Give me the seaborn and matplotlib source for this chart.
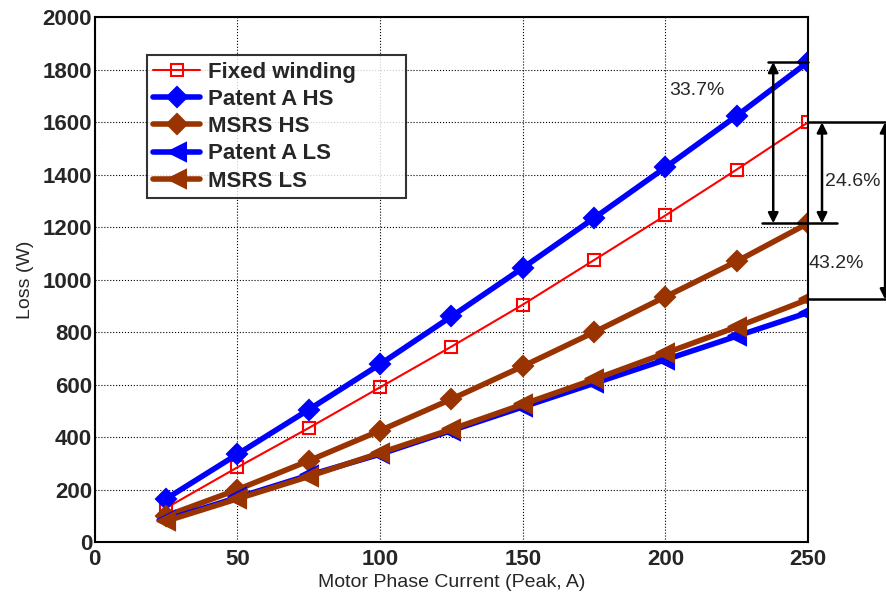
import matplotlib
matplotlib.use("Agg")
import matplotlib.pyplot as plt
import seaborn as sns
import pandas as pd
from matplotlib import font_manager

current = [25, 50, 75, 100, 125, 150, 175, 200, 225, 250]
fixed_winding = [130, 285, 435, 590, 745, 905, 1075, 1245, 1420, 1600]
patent_a_hs = [165, 335, 505, 678, 860, 1045, 1235, 1428, 1625, 1830]
msrs_hs = [100, 200, 310, 425, 545, 670, 800, 935, 1070, 1215]
patent_a_ls = [85, 170, 255, 335, 425, 515, 605, 695, 785, 875]
msrs_ls = [80, 165, 250, 340, 430, 525, 620, 720, 820, 925]
series_names = ["Fixed winding", "Patent A HS", "MSRS HS", "Patent A LS", "MSRS LS"]
pct_labels = ["33.7%", "24.6%", "43.2%"]

sns.set_style("white")
plt.rcParams['font.family'] = ['Liberation Sans', 'DejaVu Sans']
names = {f.name for f in font_manager.fontManager.ttflist}
narrow = 'Liberation Sans Narrow' if 'Liberation Sans Narrow' in names else 'Liberation Sans'
narrow_size = 17 if narrow == 'Liberation Sans Narrow' else 14

fig = plt.figure(figsize=(8.86, 5.99), dpi=100)
ax = fig.add_axes([0.107, 0.095, 0.805, 0.876])

blue = "#0000FF"
brown = "#993300"
red = "#FF0000"
styles = [
    (fixed_winding, red, "s", 1.5, 9, "none", 1.5),
    (patent_a_hs, blue, "D", 4, 10, blue, 1.5),
    (msrs_hs, brown, "D", 4, 10, brown, 1.5),
    (patent_a_ls, blue, "<", 4, 13, blue, 1.5),
    (msrs_ls, brown, "<", 4, 13, brown, 1.5),
]
for name, (vals, col, mk, lw, ms, mfc, mew) in zip(series_names, styles):
    df = pd.DataFrame({"x": current, "y": vals})
    sns.lineplot(data=df, x="x", y="y", ax=ax, color=col, marker=mk, linewidth=lw,
                 markersize=ms, markerfacecolor=mfc, markeredgecolor=col,
                 markeredgewidth=mew, label=name)

ax.set_xlim(0, 250)
ax.set_ylim(0, 2000)
ax.set_xticks(range(0, 251, 50))
ax.set_yticks(range(0, 2001, 200))
ax.grid(True, color="black", linestyle=":", linewidth=0.8)
ax.tick_params(direction="in", length=5, width=1, labelsize=16)
ax.tick_params(axis="x", pad=5)
ax.tick_params(axis="y", pad=2)
for lbl in ax.get_xticklabels() + ax.get_yticklabels():
    lbl.set_fontweight("bold")
for sp in ax.spines.values():
    sp.set_linewidth(1.5)
    sp.set_color("black")
ax.set_xlabel("Motor Phase Current (Peak, A)", fontsize=narrow_size, family=narrow, labelpad=3)
ax.set_ylabel("Loss (W)", fontsize=narrow_size, family=narrow, labelpad=6)

leg = ax.legend(loc="upper left", bbox_to_anchor=(0.0729, 0.646, 0.363, 0.282),
                mode="expand", frameon=True,
                fancybox=False, edgecolor="black", prop={"weight": "bold", "size": 16},
                handlelength=2.1, borderpad=0.3, labelspacing=0.28, handletextpad=0.35,
                borderaxespad=0)
leg.get_frame().set_linewidth(1.5)

# annotations
kw = dict(color="black", linewidth=1.8, clip_on=False)
ax.plot([236, 250], [patent_a_hs[-1]] * 2, **kw)
ax.plot([234, 260], [msrs_hs[-1]] * 2, **kw)
ax.plot([250, 277.3], [fixed_winding[-1]] * 2, **kw)
ax.plot([250, 277.3], [msrs_ls[-1]] * 2, **kw)
arrow = dict(arrowstyle="<|-|>", color="black", lw=1.8, mutation_scale=15,
             shrinkA=0, shrinkB=0)
ax.annotate("", xy=(237.8, patent_a_hs[-1]), xytext=(237.8, msrs_hs[-1]),
            arrowprops=arrow, annotation_clip=False)
ax.annotate("", xy=(254.9, fixed_winding[-1]), xytext=(254.9, msrs_hs[-1]),
            arrowprops=arrow, annotation_clip=False)
ax.annotate("", xy=(277, fixed_winding[-1]), xytext=(277, msrs_ls[-1]),
            arrowprops=arrow, annotation_clip=False)
ax.text(211, 1720, pct_labels[0], fontsize=narrow_size, family=narrow, ha="center", va="center")
ax.text(265.5, 1375, pct_labels[1], fontsize=narrow_size, family=narrow, ha="center", va="center")
ax.text(260, 1060, pct_labels[2], fontsize=narrow_size, family=narrow, ha="center", va="center")

fig.savefig("out.png", dpi=100)
